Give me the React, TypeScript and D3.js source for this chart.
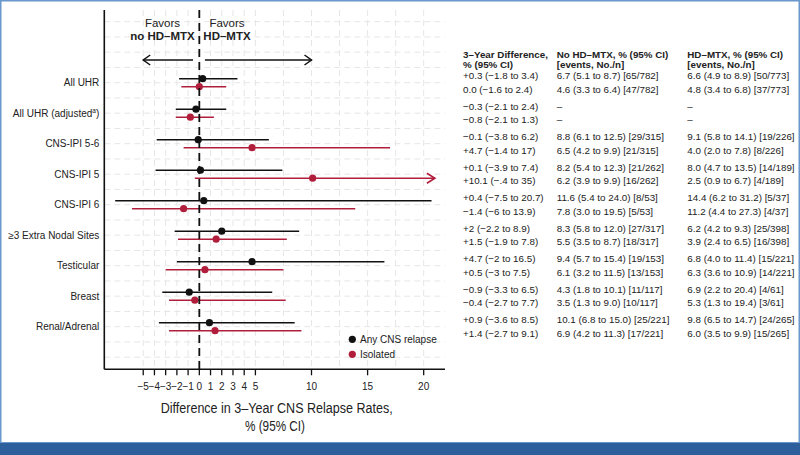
import React from "react";
import * as d3 from "d3";

const categories = [
  "All UHR",
  "All UHR (adjusted)",
  "CNS-IPI 5-6",
  "CNS-IPI 5",
  "CNS-IPI 6",
  "≥3 Extra Nodal Sites",
  "Testicular",
  "Breast",
  "Renal/Adrenal",
];

// Any CNS relapse: estimate and 95% CI
const anyEst = [0.3, -0.3, -0.1, 0.1, 0.4, 2, 4.7, -0.9, 0.9];
const anyLow = [-1.8, -2.1, -3.8, -3.9, -7.5, -2.2, -2, -3.3, -3.6];
const anyHigh = [3.4, 2.4, 6.2, 7.4, 20.7, 8.9, 16.5, 6.5, 8.5];

// Isolated CNS relapse
const isoEst = [0.0, -0.8, 4.7, 10.1, -1.4, 1.5, 0.5, -0.4, 1.4];
const isoLow = [-1.6, -2.1, -1.4, -0.4, -6, -1.9, -3, -2.7, -2.7];
const isoHigh = [2.4, 1.3, 17, 35, 13.9, 7.8, 7.5, 7.7, 9.1];

const xTicks = [-5, -4, -3, -2, -1, 0, 1, 2, 3, 4, 5, 10, 15, 20];
const xMinor = [7.5, 12.5, 17.5];

const diffAny = [
  "+0.3 (−1.8 to 3.4)", "−0.3 (−2.1 to 2.4)", "−0.1 (−3.8 to 6.2)",
  "+0.1 (−3.9 to 7.4)", "+0.4 (−7.5 to 20.7)", "+2 (−2.2 to 8.9)",
  "+4.7 (−2 to 16.5)", "−0.9 (−3.3 to 6.5)", "+0.9 (−3.6 to 8.5)",
];
const diffIso = [
  "0.0 (−1.6 to 2.4)", "−0.8 (−2.1 to 1.3)", "+4.7 (−1.4 to 17)",
  "+10.1 (−.4 to 35)", "−1.4 (−6 to 13.9)", "+1.5 (−1.9 to 7.8)",
  "+0.5 (−3 to 7.5)", "−0.4 (−2.7 to 7.7)", "+1.4 (−2.7 to 9.1)",
];
const noMtxAny = [
  "6.7 (5.1 to 8.7) [65/782]", "–", "8.8 (6.1 to 12.5) [29/315]",
  "8.2 (5.4 to 12.3) [21/262]", "11.6 (5.4 to 24.0) [8/53]", "8.3 (5.8 to 12.0) [27/317]",
  "9.4 (5.7 to 15.4) [19/153]", "4.3 (1.8 to 10.1) [11/117]", "10.1 (6.8 to 15.0) [25/221]",
];
const noMtxIso = [
  "4.6 (3.3 to 6.4) [47/782]", "–", "6.5 (4.2 to 9.9) [21/315]",
  "6.2 (3.9 to 9.9) [16/262]", "7.8 (3.0 to 19.5) [5/53]", "5.5 (3.5 to 8.7) [18/317]",
  "6.1 (3.2 to 11.5) [13/153]", "3.5 (1.3 to 9.0) [10/117]", "6.9 (4.2 to 11.3) [17/221]",
];
const mtxAny = [
  "6.6 (4.9 to 8.9) [50/773]", "–", "9.1 (5.8 to 14.1) [19/226]",
  "8.0 (4.7 to 13.5) [14/189]", "14.4 (6.2 to 31.2) [5/37]", "6.2 (4.2 to 9.3) [25/398]",
  "6.8 (4.0 to 11.4) [15/221]", "6.9 (2.2 to 20.4) [4/61]", "9.8 (6.5 to 14.7) [24/265]",
];
const mtxIso = [
  "4.8 (3.4 to 6.8) [37/773]", "–", "4.0 (2.0 to 7.8) [8/226]",
  "2.5 (0.9 to 6.7) [4/189]", "11.2 (4.4 to 27.3) [4/37]", "3.9 (2.4 to 6.5) [16/398]",
  "6.3 (3.6 to 10.9) [14/221]", "5.3 (1.3 to 19.4) [3/61]", "6.0 (3.5 to 9.9) [15/265]",
];

const FONT = "'Liberation Sans', Arial, Helvetica, sans-serif";
const RED = "#b01e3c";
const BLACK = "#111";

const plotLeft = 104.3;
const plotRight = 445;
const plotTop = 10;
const plotBottom = 369.3;
const clipMax = 21;

const x = d3.scaleLinear().domain([-8.47, 21.9]).range([plotLeft, plotRight]);
const y = d3.scaleLinear().domain([0, 8]).range([82.7, 326.7]);

const Grid = () => {
  const rows = d3.range(-2, 9.01, 0.5);
  return (
    <g stroke="#e6e6e6" strokeWidth={1} strokeDasharray="6,4">
      {rows.map((r, i) => (
        <line key={"h" + i} x1={plotLeft} x2={plotRight} y1={y(r)} y2={y(r)} />
      ))}
      {xTicks.concat(xMinor).map((t, i) => (
        <line key={"v" + i} x1={x(t)} x2={x(t)} y1={plotTop} y2={plotBottom} />
      ))}
    </g>
  );
};

const CI = (props) => {
  const { est, low, high, cy, color } = props;
  const hi = Math.min(high, clipMax);
  const x2 = x(hi);
  return (
    <g>
      <line x1={x(low)} x2={x2} y1={cy} y2={cy} stroke={color} strokeWidth={1.6} />
      {high > clipMax && (
        <path
          d={`M${x2 - 8},${cy - 5}L${x2},${cy}L${x2 - 8},${cy + 5}`}
          fill="none"
          stroke={color}
          strokeWidth={1.6}
        />
      )}
      <circle cx={x(est)} cy={cy} r={3.6} fill={color} />
    </g>
  );
};

const Rows = () => (
  <g>
    {categories.map((c, i) => (
      <g key={i}>
        <text
          x={99.3}
          y={y(i)}
          dy="0.35em"
          textAnchor="end"
          fontSize={10}
          fill="#222"
        >
          {i === 1 ? (
            <>
              All UHR (adjusted
              <tspan fontSize={6.5} dy="-4">a</tspan>
              <tspan dy="4">)</tspan>
            </>
          ) : (
            c
          )}
        </text>
        <CI est={anyEst[i]} low={anyLow[i]} high={anyHigh[i]} cy={y(i) - 4} color={BLACK} />
        <CI est={isoEst[i]} low={isoLow[i]} high={isoHigh[i]} cy={y(i) + 4} color={RED} />
      </g>
    ))}
  </g>
);

const Arrow = (props) => {
  const { from, to, cy } = props;
  const dir = to > from ? 1 : -1;
  return (
    <g stroke={BLACK} strokeWidth={1.5} fill="none">
      <line x1={from} x2={to} y1={cy} y2={cy} />
      <path d={`M${to - dir * 7},${cy - 5}L${to},${cy}L${to - dir * 7},${cy + 5}`} />
    </g>
  );
};

const Header = () => (
  <g fontSize={11.5} fill="#222">
    <text x={162.5} y={27}>
      <tspan textAnchor="middle">Favors</tspan>
    </text>
    <text x={162.5} y={40} textAnchor="middle" fontWeight="bold">
      no HD–MTX
    </text>
    <text x={227} y={27} textAnchor="middle">
      Favors
    </text>
    <text x={227} y={40} textAnchor="middle" fontWeight="bold">
      HD–MTX
    </text>
    <Arrow from={x(-0.56)} to={x(-5)} cy={60} />
    <Arrow from={x(0.5)} to={x(10)} cy={60} />
  </g>
);

const Axes = () => (
  <g>
    <line x1={plotLeft} x2={plotLeft} y1={plotTop} y2={plotBottom} stroke={BLACK} strokeWidth={1.6} />
    <line x1={plotLeft} x2={plotRight} y1={plotBottom} y2={plotBottom} stroke={BLACK} strokeWidth={1.6} />
    <line
      x1={x(0)}
      x2={x(0)}
      y1={plotTop}
      y2={plotBottom}
      stroke={BLACK}
      strokeWidth={1.8}
      strokeDasharray="8,5"
    />
    {xTicks.map((t, i) => (
      <g key={i} transform={`translate(${x(t)},0)`}>
        <line y1={plotBottom} y2={plotBottom + 6} stroke={BLACK} strokeWidth={1.3} />
        <text y={389.5} textAnchor="middle" fontSize={10} fill="#222">
          {t < 0 ? "−" + Math.abs(t) : t}
        </text>
      </g>
    ))}
    <text
      x={276.7}
      y={413}
      textAnchor="middle"
      fontSize={14}
      fill="#222"
      textLength={232}
      lengthAdjust="spacingAndGlyphs"
    >
      Difference in 3–Year CNS Relapse Rates,
    </text>
    <text
      x={275}
      y={431}
      textAnchor="middle"
      fontSize={14}
      fill="#222"
      textLength={60}
      lengthAdjust="spacingAndGlyphs"
    >
      % (95% CI)
    </text>
  </g>
);

const Legend = () => (
  <g fontSize={10} fill="#222">
    <circle cx={352.3} cy={339.3} r={3.6} fill={BLACK} />
    <text x={360} y={339.3} dy="0.35em">Any CNS relapse</text>
    <circle cx={352.3} cy={354.3} r={3.6} fill={RED} />
    <text x={360} y={354.3} dy="0.35em">Isolated</text>
  </g>
);

const Table = () => {
  const cols = [
    { x: 463, head: ["3–Year Difference,", "% (95% CI)"], a: diffAny, b: diffIso },
    { x: 556.7, head: ["No HD–MTX, % (95% CI)", "[events, No./n]"], a: noMtxAny, b: noMtxIso },
    { x: 687.3, head: ["HD–MTX, % (95% CI)", "[events, No./n]"], a: mtxAny, b: mtxIso },
  ];
  return (
    <g fontSize={9.8} fill="#222">
      {cols.map((col, j) => (
        <g key={j}>
          <text x={col.x} y={55} dy="0.35em" fontWeight="bold">{col.head[0]}</text>
          <text x={col.x} y={65} dy="0.35em" fontWeight="bold">{col.head[1]}</text>
          {categories.map((c, i) => (
            <g key={i}>
              <text x={col.x} y={y(i) - 7} dy="0.35em">{col.a[i]}</text>
              <text x={col.x} y={y(i) + 6.5} dy="0.35em">{col.b[i]}</text>
            </g>
          ))}
        </g>
      ))}
    </g>
  );
};

export default function App() {
  return (
    <svg
      width={800}
      height={455}
      style={{ position: "absolute", left: 0, top: 0, fontFamily: FONT }}
    >
      <rect width={800} height={455} fill="#fff" />
      <rect x={0.75} y={0.75} width={798.5} height={442} fill="#fff" stroke="#6a97cc" strokeWidth={1.5} />
      <rect x={0} y={443} width={800} height={12} fill="#2d5f9d" />
      <Grid />
      <Header />
      <Rows />
      <Axes />
      <Legend />
      <Table />
    </svg>
  );
}
